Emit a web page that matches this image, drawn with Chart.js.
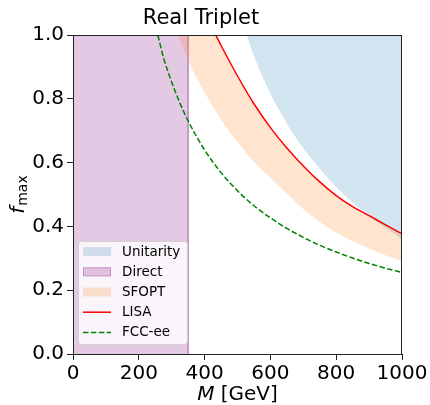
<!DOCTYPE html>
<html>
<head>
<meta charset="utf-8">
<script src="https://cdn.jsdelivr.net/npm/chart.js"></script>
<style>
  html, body { margin: 0; padding: 0; background: #fff; }
  #wrap { width: 430px; height: 405px; }
</style>
</head>
<body>
<div id="wrap"><canvas id="tripletChart" width="430" height="405"></canvas></div>
<script>
// values (M in GeV, f_max dimensionless)
const unitMass = [528, 550, 600, 650, 700, 750, 800, 850, 900, 950, 1000];
const unitF = [1.0, 0.935, 0.817, 0.723, 0.645, 0.581, 0.524, 0.475, 0.432, 0.395, 0.36];

const directMass = [0, 350];

const lisaMass = [434, 450, 500, 550, 600, 650, 700, 750, 800, 850, 900, 950, 1000];
const lisaF = [1.0, 0.968, 0.872, 0.785, 0.71, 0.646, 0.59, 0.54, 0.497, 0.462, 0.434, 0.405, 0.377];

const sfoptMass = [319, 350, 400, 434, 450, 500, 550, 600, 650, 700, 750, 800, 850, 900, 950, 1000];
const sfoptLow = [1.0, 0.92, 0.82, 0.762, 0.735, 0.665, 0.603, 0.553, 0.503, 0.455, 0.414, 0.381, 0.354, 0.331, 0.31, 0.292];

const fccMass = [258, 275, 300, 325, 350, 400, 450, 500, 550, 600, 650, 700, 750, 800, 850, 900, 950, 1000];
const fccF = [1.0, 0.93, 0.853, 0.787, 0.731, 0.64, 0.569, 0.512, 0.465, 0.427, 0.394, 0.366, 0.341, 0.32, 0.301, 0.284, 0.269, 0.256];

const xTicks = [0, 200, 400, 600, 800, 1000];
const yTicks = [0, 0.2, 0.4, 0.6, 0.8, 1.0];

// upper edge of the SFOPT band follows the LISA curve (clipped at 1)
const sfoptHigh = sfoptMass.map(m => m < lisaMass[0] ? 1.0 : lisaF[lisaMass.indexOf(m)]);

const pts = (xs, ys) => xs.map((x, i) => ({ x: x, y: ys[i] }));

const BLUE = 'rgba(31, 119, 180, 0.2)';
const PURPLE = 'rgba(128, 0, 128, 0.21)';
const PURPLE_EDGE = 'rgba(128, 0, 128, 0.25)';
const ORANGE = 'rgba(255, 127, 14, 0.2)';

Chart.defaults.font.family = '"DejaVu Sans", sans-serif';
Chart.defaults.color = '#000';

// spines on all four sides, drawn over the fills like matplotlib
const framePlugin = {
    id: 'frame',
    afterDatasetsDraw(chart) {
        const { ctx, chartArea: a } = chart;
        ctx.save();
        ctx.strokeStyle = '#222';
        ctx.lineWidth = 1;
        ctx.strokeRect(Math.round(a.left) + 0.5, Math.round(a.top) + 0.5,
            Math.round(a.right - a.left) - 1, Math.round(a.bottom - a.top));
        ctx.restore();
    }
};

// axis labels with italic symbols + legend box in lower left
const decorPlugin = {
    id: 'decor',
    afterDraw(chart) {
        const { ctx, chartArea: a } = chart;
        ctx.save();
        ctx.fillStyle = '#000';
        ctx.textBaseline = 'alphabetic';

        // x label: M [GeV]
        const big = '20px "DejaVu Sans"';
        const bigIt = 'italic 20px "DejaVu Sans"';
        ctx.font = bigIt;
        const wM = ctx.measureText('M').width;
        ctx.font = big;
        const wRest = ctx.measureText(' [GeV]').width;
        let x0 = (a.left + a.right) / 2 - (wM + wRest) / 2;
        ctx.font = bigIt;
        ctx.fillText('M', x0, 400);
        ctx.font = big;
        ctx.fillText(' [GeV]', x0 + wM, 400);

        // y label: f_max
        ctx.save();
        ctx.translate(24, (a.top + a.bottom) / 2);
        ctx.rotate(-Math.PI / 2);
        ctx.font = bigIt;
        const wf = ctx.measureText('f').width;
        ctx.font = '14px "DejaVu Sans"';
        const wsub = ctx.measureText('max').width;
        const start = -(wf + 1 + wsub) / 2;
        ctx.font = bigIt;
        ctx.fillText('f', start, 0);
        ctx.font = '14px "DejaVu Sans"';
        ctx.fillText('max', start + wf + 1, 3);
        ctx.restore();

        // legend
        const lx = 78, ly = 241, lw = 109, lh = 103;
        ctx.beginPath();
        ctx.roundRect(lx + 0.5, ly + 0.5, lw, lh, 3);
        ctx.fillStyle = 'rgba(255, 255, 255, 0.8)';
        ctx.fill();
        ctx.strokeStyle = 'rgba(204, 204, 204, 0.8)';
        ctx.lineWidth = 1;
        ctx.stroke();

        const entries = chart.data.datasets.filter(ds => ds.legendKind);
        ctx.font = '13.5px "DejaVu Sans"';
        ctx.textBaseline = 'middle';
        entries.forEach((ds, i) => {
            const cy = 251.6 + i * 20.2;
            const px = 83, pw = 28;
            if (ds.legendKind === 'patch') {
                ctx.fillStyle = ds.backgroundColor;
                ctx.fillRect(px, cy - 4.5, pw, 9);
                if (ds.borderWidth > 0) {
                    ctx.strokeStyle = ds.borderColor;
                    ctx.lineWidth = 1;
                    ctx.strokeRect(px + 0.5, cy - 4, pw - 1, 8);
                }
            } else {
                ctx.beginPath();
                ctx.strokeStyle = ds.borderColor;
                ctx.lineWidth = ds.borderWidth;
                ctx.setLineDash(ds.borderDash || []);
                ctx.moveTo(px, cy);
                ctx.lineTo(px + pw, cy);
                ctx.stroke();
                ctx.setLineDash([]);
            }
            ctx.fillStyle = '#000';
            ctx.fillText(ds.label, 122, cy + 0.5);
        });
        ctx.restore();
    }
};

const ctx = document.getElementById('tripletChart').getContext('2d');

new Chart(ctx, {
    type: 'line',
    data: {
        datasets: [
            {
                label: 'Unitarity',
                legendKind: 'patch',
                data: pts(unitMass, unitF),
                fill: 'end',
                backgroundColor: BLUE,
                borderWidth: 0,
                pointRadius: 0,
                cubicInterpolationMode: 'monotone',
                order: 5
            },
            {
                label: 'Direct',
                legendKind: 'patch',
                data: [{ x: directMass[0], y: 1 }, { x: directMass[1], y: 1 }, { x: directMass[1], y: 0 }],
                fill: 'start',
                backgroundColor: PURPLE,
                borderColor: PURPLE_EDGE,
                borderWidth: 1,
                pointRadius: 0,
                order: 4
            },
            {
                label: 'SFOPT upper',
                data: pts(sfoptMass, sfoptHigh),
                fill: false,
                borderWidth: 0,
                pointRadius: 0,
                cubicInterpolationMode: 'monotone',
                order: 3
            },
            {
                label: 'SFOPT',
                legendKind: 'patch',
                data: pts(sfoptMass, sfoptLow),
                fill: 2,
                backgroundColor: ORANGE,
                borderWidth: 0,
                pointRadius: 0,
                cubicInterpolationMode: 'monotone',
                order: 2
            },
            {
                label: 'LISA',
                legendKind: 'line',
                data: pts(lisaMass, lisaF),
                fill: false,
                borderColor: '#ff0000',
                borderWidth: 1.5,
                pointRadius: 0,
                cubicInterpolationMode: 'monotone',
                order: 1
            },
            {
                label: 'FCC-ee',
                legendKind: 'line',
                data: pts(fccMass, fccF),
                fill: false,
                borderColor: '#008000',
                borderWidth: 1.5,
                borderDash: [5.5, 2.4],
                pointRadius: 0,
                cubicInterpolationMode: 'monotone',
                order: 0
            }
        ]
    },
    options: {
        responsive: false,
        animation: false,
        layout: { padding: { left: 0, right: 28, top: 0, bottom: 0 } },
        scales: {
            x: {
                type: 'linear',
                min: xTicks[0],
                max: xTicks[xTicks.length - 1],
                afterBuildTicks: (s) => { s.ticks = xTicks.map(v => ({ value: v })); },
                afterFit: (s) => { s.height = 51; s.paddingLeft = 0; s.paddingRight = 0; },
                ticks: { font: { size: 20 }, padding: 2, maxRotation: 0, autoSkip: false, callback: v => String(v) },
                grid: { drawOnChartArea: false, tickLength: 6, color: '#222' },
                border: { display: false }
            },
            y: {
                type: 'linear',
                min: yTicks[0],
                max: yTicks[yTicks.length - 1],
                afterBuildTicks: (s) => { s.ticks = yTicks.map(v => ({ value: v })); },
                afterFit: (s) => { s.width = 73; s.paddingTop = 0; s.paddingBottom = 0; },
                ticks: { font: { size: 20 }, padding: 3, callback: v => v.toFixed(1) },
                grid: { drawOnChartArea: false, tickLength: 6, color: '#222' },
                border: { display: false }
            }
        },
        plugins: {
            legend: { display: false },
            tooltip: { enabled: false },
            title: {
                display: true,
                text: 'Real Triplet',
                font: { size: 21, weight: 'normal' },
                padding: { top: 6, bottom: 4 },
                color: '#000'
            }
        }
    },
    plugins: [framePlugin, decorPlugin]
});
</script>
</body>
</html>
